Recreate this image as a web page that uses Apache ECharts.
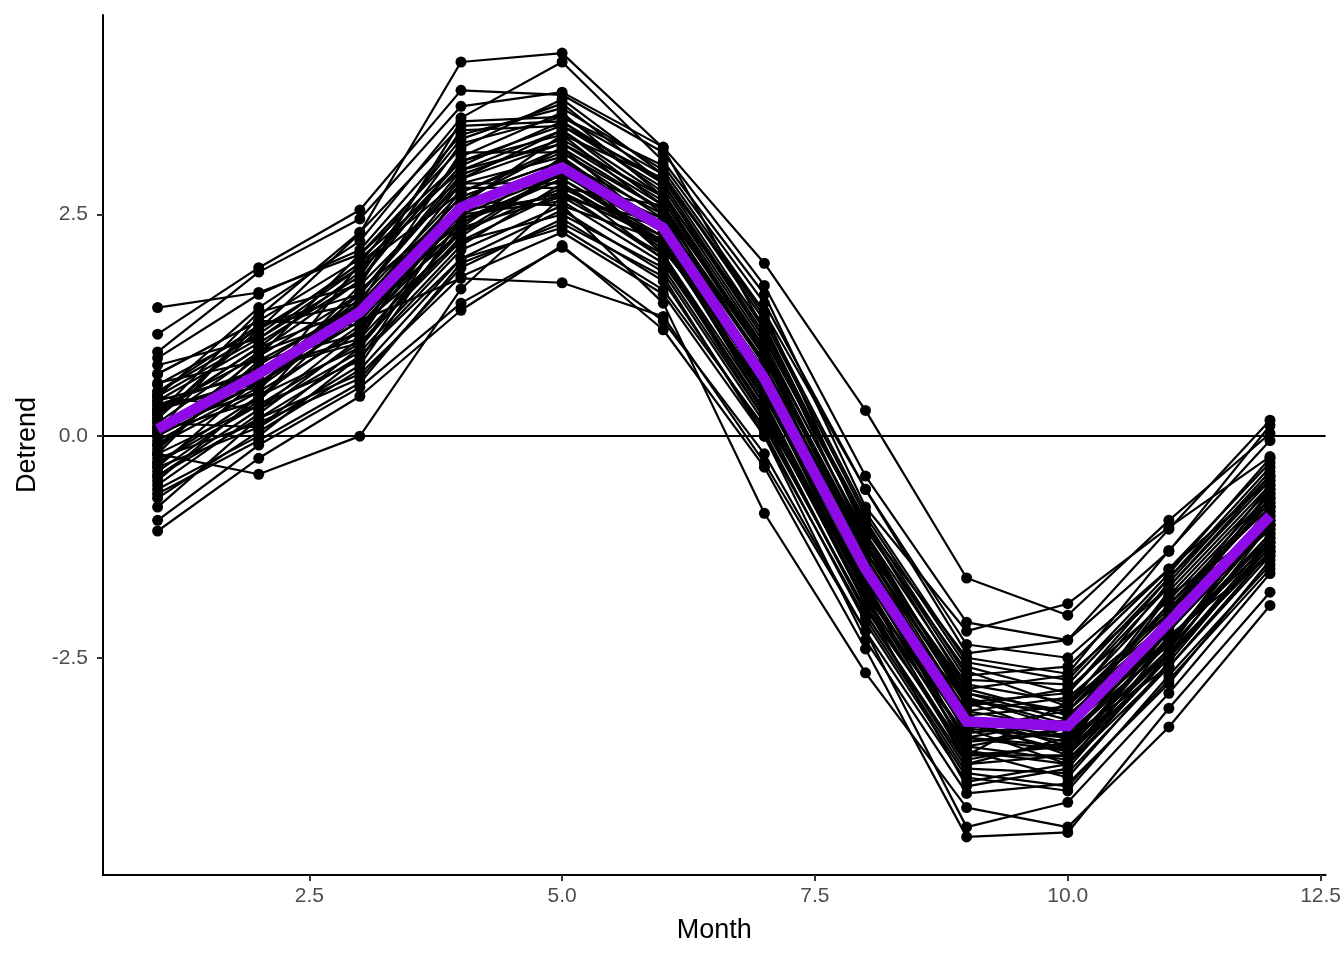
<!DOCTYPE html>
<html>
<head>
<meta charset="utf-8">
<script src="https://cdn.jsdelivr.net/npm/echarts@6/dist/echarts.min.js"></script>
<style>
html,body{margin:0;padding:0;background:#fff;}
#chart{width:1344px;height:960px;}
</style>
</head>
<body>
<div id="chart"></div>
<script>
const months = [1,2,3,4,5,6,7,8,9,10,11,12];
const xTicks = [2.5, 5, 7.5, 10, 12.5];
const yTicks = [-2.5, 0, 2.5];
const meanLine = [0.08, 0.70, 1.40, 2.58, 3.03, 2.35, 0.65, -1.50, -3.22, -3.27, -2.10, -0.90];

const line01 = [1.45, 1.62, 2.05, 3.10, 3.40, 2.90, 1.40, -0.60, -2.45, -2.30, -1.05, 0.18];
const line02 = [1.15, 1.90, 2.55, 3.90, 3.85, 3.20, 1.70, -0.45, -2.10, -2.30, -1.30, 0.12];
const line03 = [0.95, 1.85, 2.45, 3.72, 3.88, 3.26, 1.95, 0.29, -1.60, -2.02, -0.95, 0.03];
const line04 = [0.20, 1.20, 2.29, 4.22, 4.32, 3.25, 1.20, -1.00, -2.50, -2.68, -1.29, -0.05];
const line05 = [0.45, 1.45, 2.20, 3.59, 4.22, 3.10, 1.60, -0.80, -2.20, -1.89, -1.03, -0.23];
const line06 = [-0.20, -0.43, 0.00, 1.66, 2.70, 2.40, 0.50, -1.80, -3.60, -3.50, -2.40, -1.10];
const line07 = [0.30, 0.60, 1.30, 1.78, 1.73, 1.35, -0.30, -2.20, -3.90, -3.70, -2.60, -1.30];
const line08 = [-0.60, 0.00, 0.90, 2.10, 2.60, 1.50, -0.87, -2.67, -4.19, -4.41, -3.28, -1.91];
const line09 = [-1.07, -0.25, 0.45, 1.42, 2.15, 1.20, -0.35, -2.40, -4.52, -4.47, -3.07, -1.76];
const line10 = [-0.95, -0.10, 0.55, 1.50, 2.13, 1.30, -0.20, -2.20, -4.41, -4.13, -2.90, -1.55];
const line11 = [-0.80, 0.20, 0.70, 1.80, 2.30, 1.60, 0.00, -2.30, -4.03, -3.92, -2.79, -1.40];
const line12 = [0.58, 1.20, 1.90, 3.10, 3.50, 2.80, 1.10, -1.00, -2.75, -2.80, -1.60, -0.45];
const line13 = [0.40, 1.05, 1.75, 3.30, 3.60, 2.95, 1.30, -0.90, -2.60, -2.90, -1.70, -0.50];
const line14 = [0.30, 0.90, 1.60, 2.90, 3.30, 2.60, 0.90, -1.30, -3.00, -3.10, -1.90, -0.70];
const line15 = [0.10, 0.80, 1.50, 2.70, 3.10, 2.40, 0.70, -1.40, -3.10, -3.30, -2.20, -1.00];
const line16 = [0.00, 0.60, 1.30, 2.50, 2.95, 2.30, 0.60, -1.60, -3.30, -3.40, -2.20, -0.95];
const line17 = [-0.10, 0.50, 1.20, 2.40, 2.90, 2.20, 0.50, -1.70, -3.40, -3.50, -2.30, -1.10];
const line18 = [-0.30, 0.35, 1.05, 2.20, 2.75, 2.00, 0.30, -1.90, -3.60, -3.60, -2.50, -1.25];
const line19 = [-0.45, 0.20, 0.90, 2.00, 2.55, 1.85, 0.15, -2.00, -3.75, -3.80, -2.60, -1.35];
const line20 = [0.70, 1.30, 2.00, 3.00, 3.30, 2.70, 1.00, -1.10, -2.80, -3.00, -1.80, -0.60];
const line21 = [0.88, 1.60, 2.10, 3.40, 3.70, 3.00, 1.40, -1.10, -3.00, -2.90, -1.60, -0.35];
const line22 = [0.80, 1.10, 1.80, 3.45, 3.50, 2.90, 1.20, -1.20, -2.90, -3.20, -1.90, -0.80];
const line23 = [0.20, 1.25, 1.50, 3.20, 3.20, 2.55, 0.80, -1.30, -3.10, -2.95, -2.00, -0.75];
const line24 = [0.05, 0.40, 1.65, 2.60, 3.40, 2.50, 0.90, -1.50, -3.30, -3.10, -2.10, -0.85];
const line25 = [0.35, 0.75, 1.10, 2.80, 2.80, 2.60, 0.60, -1.60, -3.00, -3.40, -2.20, -0.90];
const line26 = [-0.20, 0.95, 1.35, 2.30, 3.00, 2.10, 0.70, -1.40, -3.50, -3.30, -1.80, -1.00];
const line27 = [0.45, 0.30, 1.20, 2.65, 2.60, 2.20, 0.40, -1.80, -3.20, -3.60, -2.40, -0.80];
const line28 = [-0.35, 0.65, 1.55, 2.75, 3.20, 2.45, 0.85, -1.20, -3.40, -3.20, -2.30, -1.20];
const line29 = [0.15, 0.10, 0.80, 2.45, 2.90, 2.25, 0.55, -1.75, -3.30, -3.70, -2.50, -1.15];
const line30 = [0.60, 0.85, 1.45, 2.35, 3.15, 2.05, 0.25, -1.65, -3.15, -3.50, -2.00, -0.65];
const line31 = [-0.50, 0.45, 1.00, 2.55, 2.70, 2.35, 0.75, -1.45, -3.60, -3.00, -2.10, -1.05];
const line32 = [0.25, 1.00, 1.85, 3.05, 3.55, 2.75, 1.05, -1.15, -2.95, -3.25, -1.75, -0.55];
const line33 = [-0.05, 0.55, 1.70, 2.85, 2.85, 2.15, 0.45, -1.55, -3.45, -3.35, -2.35, -0.95];
const line34 = [0.70, 1.30, 1.25, 2.20, 2.50, 1.90, 0.20, -2.00, -3.70, -3.40, -2.60, -1.30];
const line35 = [-0.25, 0.15, 0.65, 1.90, 2.45, 1.75, 0.05, -2.10, -3.85, -4.00, -2.70, -1.45];
const line36 = [0.50, 1.15, 1.95, 3.35, 3.75, 2.85, 1.15, -0.95, -2.70, -2.60, -1.50, -0.50];
const line37 = [-0.70, 0.05, 0.75, 2.00, 2.35, 1.65, 0.10, -1.95, -3.55, -3.85, -2.55, -1.20];
const line38 = [0.40, 0.70, 1.50, 2.40, 2.95, 2.45, 0.80, -1.35, -3.15, -3.05, -1.95, -0.75];
const line39 = [0.10, 0.50, 1.95, 2.90, 3.45, 2.60, 0.95, -1.25, -2.85, -3.15, -2.15, -0.60];
const line40 = [-0.15, 0.85, 1.15, 2.55, 3.05, 2.05, 0.35, -1.85, -3.40, -3.55, -2.45, -1.00];
const line41 = [0.25, 1.40, 1.70, 3.55, 3.60, 3.05, 1.50, -0.60, -2.35, -2.50, -1.50, -0.30];
const line42 = [-0.45, 0.30, 0.95, 2.15, 2.85, 2.00, 0.20, -1.70, -3.70, -3.60, -2.25, -1.35];
const line43 = [0.05, 0.60, 1.40, 2.65, 3.25, 2.30, 0.55, -1.60, -3.25, -3.45, -2.15, -0.90];
const line44 = [-0.30, 0.45, 1.25, 2.50, 2.65, 1.95, 0.30, -1.90, -3.95, -3.75, -2.45, -1.25];
const line45 = [0.50, 1.25, 1.60, 2.95, 3.35, 2.65, 0.95, -1.20, -3.05, -2.85, -1.85, -0.65];
const line46 = [-0.55, 0.25, 1.10, 2.30, 2.80, 2.25, 0.45, -1.65, -3.55, -3.70, -2.30, -1.15];
const line47 = [0.15, 0.95, 1.75, 3.15, 3.65, 2.70, 1.25, -1.05, -2.65, -3.05, -1.65, -0.40];
const line48 = [-0.40, 0.40, 1.45, 2.70, 3.10, 2.50, 0.65, -1.55, -3.35, -3.25, -2.05, -1.05];
const line49 = [0.35, 0.55, 1.35, 2.45, 2.75, 2.20, 0.35, -1.75, -3.50, -3.65, -2.50, -1.20];
const line50 = [-0.10, 0.75, 1.05, 2.25, 3.00, 2.15, 0.60, -1.45, -3.20, -3.40, -2.35, -0.85];
const line51 = [0.00, 0.90, 2.05, 3.25, 3.80, 2.95, 1.35, -0.85, -2.55, -2.75, -1.55, -0.25];
const line52 = [-0.65, -0.05, 0.60, 1.95, 2.40, 1.80, 0.00, -2.05, -3.80, -3.95, -2.75, -1.50];
const line53 = [0.45, 1.10, 1.90, 2.75, 3.25, 2.55, 1.00, -1.30, -2.95, -3.30, -2.05, -0.70];
const line54 = [-0.20, 0.35, 0.85, 2.60, 2.95, 2.40, 0.50, -1.60, -3.45, -3.30, -2.30, -1.00];
const line55 = [0.25, 1.00, 1.45, 2.85, 3.15, 2.35, 0.75, -1.40, -3.25, -3.55, -2.20, -0.80];
const line56 = [-0.35, 0.10, 1.00, 2.35, 2.70, 2.05, 0.25, -1.85, -3.65, -3.45, -2.45, -1.30];
const line57 = [0.30, 0.65, 1.60, 3.00, 3.45, 2.70, 0.90, -1.25, -2.90, -3.10, -2.00, -0.55];
const line58 = [0.05, 1.35, 2.30, 3.50, 3.55, 2.85, 1.10, -1.00, -2.85, -2.70, -1.70, -0.45];

const allLines = [line01,line02,line03,line04,line05,line06,line07,line08,line09,line10,
  line11,line12,line13,line14,line15,line16,line17,line18,line19,line20,
  line21,line22,line23,line24,line25,line26,line27,line28,line29,line30,
  line31,line32,line33,line34,line35,line36,line37,line38,line39,line40,
  line41,line42,line43,line44,line45,line46,line47,line48,line49,line50,
  line51,line52,line53,line54,line55,line56,line57,line58];

const toPairs = arr => months.map((m, i) => [m, arr[i]]);

const series = allLines.map((arr, k) => ({
  type: 'line',
  name: 'year' + (k + 1),
  data: toPairs(arr),
  symbol: 'circle',
  symbolSize: 11,
  showSymbol: true,
  itemStyle: { color: '#000' },
  lineStyle: { color: '#000', width: 2.2 },
  z: 2,
  silent: true
}));

series.push({
  type: 'line',
  name: 'mean',
  data: toPairs(meanLine),
  symbol: 'none',
  lineStyle: { color: '#8E0AE6', width: 10.5, cap: 'butt', join: 'miter' },
  z: 5,
  silent: true,
  markLine: {
    silent: true,
    symbol: 'none',
    label: { show: false },
    lineStyle: { color: '#000', width: 2.2, type: 'solid' },
    data: [{ yAxis: 0 }]
  }
});

const labelFont = 'Liberation Sans, Arial, Helvetica, sans-serif';

const chart = echarts.init(document.getElementById('chart'), null, { renderer: 'canvas' });
chart.setOption({
  animation: false,
  backgroundColor: '#fff',
  grid: { left: 103, right: 16, top: 15, bottom: 85, containLabel: false },
  xAxis: {
    type: 'value',
    min: 0.46,
    max: 12.55,
    name: 'Month',
    nameLocation: 'middle',
    nameGap: 42,
    nameTextStyle: { color: '#000', fontSize: 27, fontFamily: labelFont },
    axisLine: { show: true, onZero: false, lineStyle: { color: '#000', width: 2 } },
    axisTick: { show: true, length: 6, customValues: xTicks, lineStyle: { color: '#333', width: 2 } },
    axisLabel: { show: true, customValues: xTicks, margin: 11, color: '#4D4D4D', fontSize: 21, fontFamily: labelFont,
      formatter: v => Number(v).toFixed(1) },
    splitLine: { show: false }
  },
  yAxis: {
    type: 'value',
    min: -4.95,
    max: 4.75,
    name: 'Detrend',
    nameLocation: 'middle',
    nameGap: 60,
    nameRotate: 90,
    nameTextStyle: { color: '#000', fontSize: 27, fontFamily: labelFont },
    axisLine: { show: true, onZero: false, lineStyle: { color: '#000', width: 2 } },
    axisTick: { show: true, length: 6, customValues: yTicks, lineStyle: { color: '#333', width: 2 } },
    axisLabel: { show: true, customValues: yTicks, margin: 15, color: '#4D4D4D', fontSize: 21, fontFamily: labelFont,
      formatter: v => Number(v).toFixed(1) },
    splitLine: { show: false }
  },
  series: series
});
</script>
</body>
</html>
